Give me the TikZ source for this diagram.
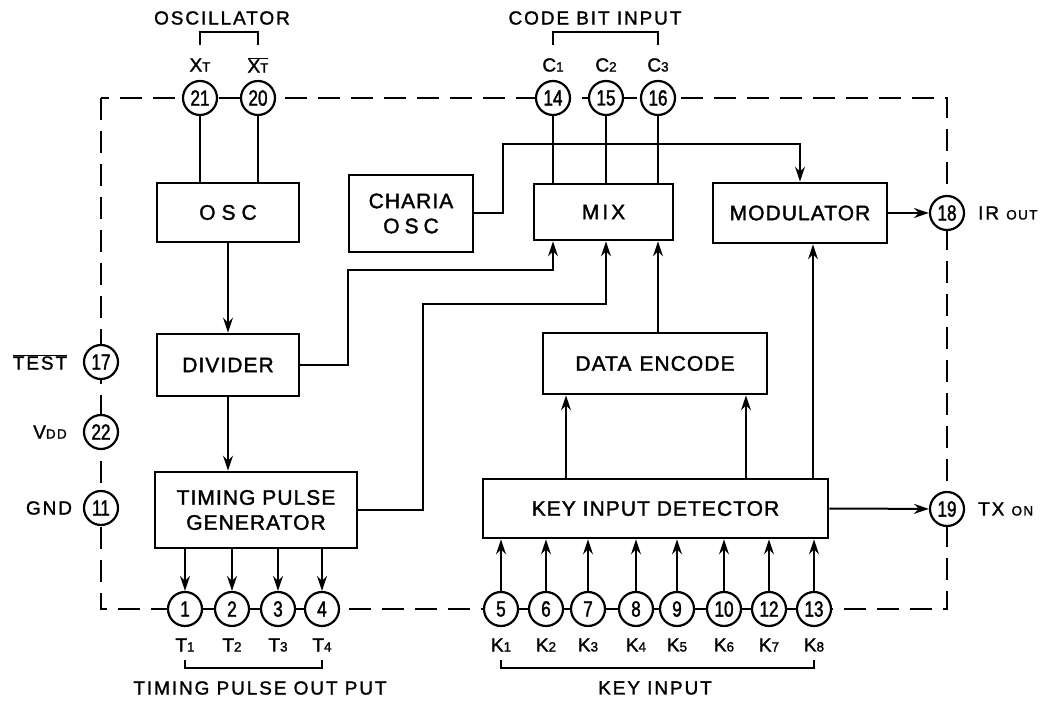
\documentclass[tikz,border=0pt]{standalone}
\usepackage{fontspec}
\setmainfont{Liberation Sans}
\newfontfamily\boxfont[LetterSpace=5,FakeBold=1.6]{Liberation Sans}
\newfontfamily\lblfont[LetterSpace=10,FakeBold=1.4]{Liberation Sans}
\newfontfamily\pinfont[FakeStretch=0.78,FakeBold=1.6]{Liberation Sans}
\usetikzlibrary{arrows.meta}
\newcommand{\bx}{\boxfont\fontsize{21}{25}\selectfont}
\newcommand{\lb}{\lblfont\fontsize{19}{22}\selectfont}
\newcommand{\pn}{\pinfont\fontsize{22}{22}\selectfont}
\newcommand{\sm}[1]{{\fontsize{13.5}{14}\selectfont #1}}
\begin{document}
\begin{tikzpicture}[x=1pt,y=-1pt,
  box/.style={draw,line width=2.8pt,inner sep=0pt,align=center,font=\bx},
  pinc/.style={circle,draw,line width=2.2pt,fill=white,minimum size=34pt,inner sep=0pt,font=\pn},
  conn/.style={line width=2pt},
  arr/.style={conn,-{Stealth[length=15pt,width=10pt,inset=5pt]}},
  border/.style={line width=2.6pt,dash pattern=on 22pt off 11pt},
  lbl/.style={font=\lb,inner sep=0pt},
  brk/.style={line width=1.8pt}]
\useasboundingbox (0,0) rectangle (1053,703);
\fill[white] (0,0) rectangle (1053,703);

% chip outline
\draw[border] (101,98) rectangle (947,609);

% blocks
\node[box,minimum width=142pt,minimum height=59pt] (osc) at (228,212.5) {O\hspace{6pt}S\hspace{6pt}C};
\node[box,minimum width=124pt,minimum height=77pt] (charia) at (411,213.5) {CHARIA\\O\hspace{5pt}S\hspace{5pt}C};
\node[box,minimum width=139pt,minimum height=56pt] (mix) at (603.5,212) {M\hspace{3pt}I\hspace{3pt}X};
\node[box,minimum width=174pt,minimum height=60pt] (mod) at (800,213) {MODULATOR};
\node[box,minimum width=142pt,minimum height=62pt] (div) at (228,365) {DIVIDER};
\node[box,minimum width=224pt,minimum height=61pt] (de) at (655,363.5) {DATA\hspace{8pt}ENCODE};
\node[box,minimum width=202pt,minimum height=76pt] (tpg) at (256,510) {TIMING PULSE\\GENERATOR};
\node[box,minimum width=345pt,minimum height=59pt] (kid) at (655.5,508.5) {KEY INPUT DETECTOR};

% pins
\node[pinc] (p21) at (200,98) {21};
\node[pinc] (p20) at (258,98) {20};
\node[pinc] (p14) at (553,98) {14};
\node[pinc] (p15) at (606,98) {15};
\node[pinc] (p16) at (658,98) {16};
\node[pinc] (p18) at (947,213) {18};
\node[pinc] (p19) at (947,509) {19};
\node[pinc] (p17) at (101,362) {17};
\node[pinc] (p22) at (101,432) {22};
\node[pinc] (p11) at (101,508) {11};
\node[pinc] (p1) at (185,609) {1};
\node[pinc] (p2) at (232,609) {2};
\node[pinc] (p3) at (278,609) {3};
\node[pinc] (p4) at (322,609) {4};
\node[pinc] (p5) at (501,609) {5};
\node[pinc] (p6) at (546,609) {6};
\node[pinc] (p7) at (588,609) {7};
\node[pinc] (p8) at (636,609) {8};
\node[pinc] (p9) at (677,609) {9};
\node[pinc] (p10) at (724,609) {10};
\node[pinc] (p12) at (769,609) {12};
\node[pinc] (p13) at (814,609) {13};

% short solid links between close pins
\draw[conn] (p1)--(p2) (p2)--(p3) (p3)--(p4);
\draw[conn] (p5)--(p6) (p6)--(p7) (p7)--(p8) (p8)--(p9) (p9)--(p10) (p10)--(p12) (p12)--(p13);

% waypoints
\coordinate (w0) at (503,144);
\coordinate (w1) at (348,270);
\coordinate (w2) at (423,304);
\coordinate (xa) at (566,450);
\coordinate (xb) at (746,450);
\coordinate (xc) at (813,450);

% connectors
\draw[conn] (p21) -- (p21 |- osc.north);
\draw[conn] (p20) -- (p20 |- osc.north);
\draw[conn] (p14) -- (p14 |- mix.north);
\draw[conn] (p15) -- (p15 |- mix.north);
\draw[conn] (p16) -- (p16 |- mix.north);
\draw[arr] (charia.east) -| (w0) -| (mod.north);
\draw[arr] (osc) -- (div);
\draw[arr] (div) -- (tpg.north -| div);
\draw[arr] (div.east) -| (w1) -| (p14 |- mix.south);
\draw[arr] (tpg.east) -| (w2) -| (p15 |- mix.south);
\draw[arr] (de.north -| p16) -- (p16 |- mix.south);
\draw[arr] (xa |- kid.north) -- (xa |- de.south);
\draw[arr] (xb |- kid.north) -- (xb |- de.south);
\draw[arr] (xc |- kid.north) -- (xc |- mod.south);
\draw[arr] (mod.east) -- (p18);
\draw[arr] (kid.east) -- (p19);
\foreach \p in {p1,p2,p3,p4} \draw[arr] (\p |- tpg.south) -- (\p);
\foreach \p in {p5,p6,p7,p8,p9,p10,p12,p13} \draw[arr] (\p) -- (\p |- kid.south);

% labels
\node[lbl] (loscl) at (222,18) {OSCILLATOR};
\node[lbl] (lcode) at (595,18) {CODE BIT INPUT};
\draw[brk] (200,45) -- (200,32) -- (258,32) -- (258,45);
\draw[brk] (553,45) -- (553,32) -- (658,32) -- (658,45);
\node[lbl] (lxt) at (200,65) {X\sm{T}};
\node[lbl] (lxtb) at (258,65) {$\overline{\mbox{X\sm{T}}}$};
\node[lbl] (lc1) at (553,65) {C\sm{1}};
\node[lbl] (lc2) at (606,65) {C\sm{2}};
\node[lbl] (lc3) at (658,65) {C\sm{3}};
\node[lbl] (ltest) at (40,362) {$\overline{\mbox{TEST}}$};
\node[lbl] (lvdd) at (50,432) {V\sm{DD}};
\node[lbl] (lgnd) at (49,508) {GND};
\node[lbl,anchor=west] (lir) at (978,213) {IR \sm{OUT}};
\node[lbl,anchor=west] (ltx) at (978,509) {TX \sm{ON}};
\node[lbl] (lt1) at (185,645) {T\sm{1}};
\node[lbl] (lt2) at (232,645) {T\sm{2}};
\node[lbl] (lt3) at (278,645) {T\sm{3}};
\node[lbl] (lt4) at (322,645) {T\sm{4}};
\node[lbl] (lk1) at (501,645) {K\sm{1}};
\node[lbl] (lk2) at (546,645) {K\sm{2}};
\node[lbl] (lk3) at (588,645) {K\sm{3}};
\node[lbl] (lk4) at (636,645) {K\sm{4}};
\node[lbl] (lk5) at (677,645) {K\sm{5}};
\node[lbl] (lk6) at (724,645) {K\sm{6}};
\node[lbl] (lk7) at (769,645) {K\sm{7}};
\node[lbl] (lk8) at (814,645) {K\sm{8}};
\draw[brk] (185,660) -- (185,668) -- (322,668) -- (322,660);
\draw[brk] (501,660) -- (501,668) -- (814,668) -- (814,660);
\node[lbl] (ltpo) at (260,688) {TIMING PULSE OUT PUT};
\node[lbl] (lkey) at (655,688) {KEY INPUT};
\end{tikzpicture}
\end{document}
